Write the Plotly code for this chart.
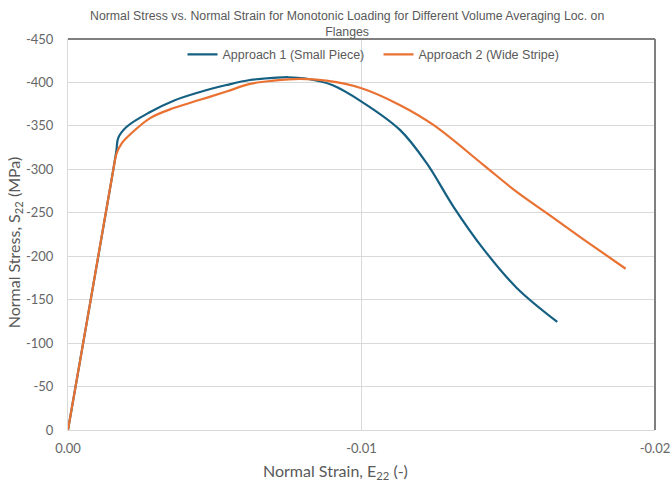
import plotly.graph_objects as go

# Volume-averaged normal strain (E22) and normal stress (S22, MPa), monotonic loading
strain_small_piece = [0, -0.0008, -0.00154, -0.00165, -0.00171, -0.0020, -0.0028, -0.0036,
                      -0.0045, -0.0054, -0.0062, -0.0070, -0.0075, -0.0081, -0.0090, -0.0100,
                      -0.01131, -0.01222, -0.01313, -0.01415, -0.01529, -0.01667]
stress_small_piece = [0, -155, -299, -322, -336, -349, -366, -379,
                      -389, -397, -402.8, -405.2, -406, -404.5, -397, -378,
                      -345.4, -307.1, -257.2, -208.5, -163.5, -124.4]

strain_wide_stripe = [0, -0.0008, -0.00154, -0.00166, -0.00183, -0.00211, -0.0028, -0.0036,
                      -0.0045, -0.0054, -0.0062, -0.0070, -0.0079, -0.0088, -0.0100, -0.0113,
                      -0.01245, -0.01415, -0.01529, -0.01642, -0.01756, -0.0190]
stress_wide_stripe = [0, -155, -299, -318.6, -330, -340, -359, -370.5,
                      -380, -389.5, -398.3, -402, -404, -402, -393.3, -374.1,
                      -351.1, -305.2, -274, -247, -219.5, -185.6]

series_names = ["Approach 1 (Small Piece)", "Approach 2 (Wide Stripe)"]
series_colors = ["#156082", "#E97132"]

y_ticks = [0, -50, -100, -150, -200, -250, -300, -350, -400, -450]
x_ticks = [0, -0.01, -0.02]
x_tick_text = ["0.00", "-0.01", "-0.02"]

chart_title = ("Normal Stress vs. Normal Strain for Monotonic Loading for Different "
               "Volume Averaging Loc. on<br>Flanges")

text_gray = "#595959"
tick_gray = "#666666"
grid_gray = "#D9D9D9"
frame_gray = "#7F7F7F"
narrow = "Liberation Sans Narrow, Arial Narrow, Liberation Sans, sans-serif"
regular = "Lato, Open Sans, sans-serif"

fig = go.Figure()
for name, color, xs, ys in [
    (series_names[0], series_colors[0], strain_small_piece, stress_small_piece),
    (series_names[1], series_colors[1], strain_wide_stripe, stress_wide_stripe),
]:
    fig.add_trace(go.Scatter(
        x=xs, y=ys, name=name, mode="lines",
        line=dict(color=color, width=2.2, shape="spline", smoothing=1.0),
    ))

fig.update_layout(
    width=671, height=482,
    margin=dict(l=68, r=16, t=39, b=52, autoexpand=False),
    paper_bgcolor="white", plot_bgcolor="white",
    legend=dict(
        orientation="h", x=0.529, xanchor="center", y=0.998, yanchor="top",
        font=dict(family=narrow, size=12.5, color=text_gray),
        bgcolor="rgba(0,0,0,0)", itemwidth=30, entrywidth=151,
    ),
    xaxis=dict(
        range=[0, -0.02], tickvals=x_ticks, ticktext=x_tick_text,
        showgrid=True, gridcolor=grid_gray, gridwidth=1, automargin=False,
        zeroline=False, showline=True, linecolor=grid_gray, linewidth=1,
        ticks="", ticklabelstandoff=6,
        tickfont=dict(family=regular, size=13, color=tick_gray),
    ),
    yaxis=dict(
        range=[0, -450], tickvals=y_ticks, ticktext=[str(v) for v in y_ticks],
        showgrid=True, gridcolor=grid_gray, gridwidth=1, automargin=False,
        zeroline=False, showline=True, linecolor=grid_gray, linewidth=1,
        ticks="", ticklabelstandoff=11,
        tickfont=dict(family=regular, size=13, color=tick_gray),
    ),
    shapes=[
        dict(type="line", xref="paper", yref="paper", x0=0, x1=1, y0=1, y1=1,
             line=dict(color=frame_gray, width=2)),
        dict(type="line", xref="paper", yref="paper", x0=1, x1=1, y0=0, y1=1,
             line=dict(color=frame_gray, width=2)),
    ],
    annotations=[
        dict(text=chart_title, xref="paper", yref="paper",
             x=0.476, y=1.0396, xanchor="center", yanchor="middle", showarrow=False,
             font=dict(family=narrow, size=12.3, color=text_gray)),
        dict(text="Normal Strain, E<sub>22</sub> (-)", xref="paper", yref="paper",
             x=0.455, y=-0.106, xanchor="center", yanchor="middle", showarrow=False,
             font=dict(family=regular, size=16, color=text_gray)),
        dict(text="Normal Stress, S<sub>22</sub> (MPa)", xref="paper", yref="paper",
             x=-0.092, y=0.48, xanchor="center", yanchor="middle", showarrow=False,
             textangle=-90, font=dict(family=regular, size=16, color=text_gray)),
    ],
)

fig.write_html("out.html")
